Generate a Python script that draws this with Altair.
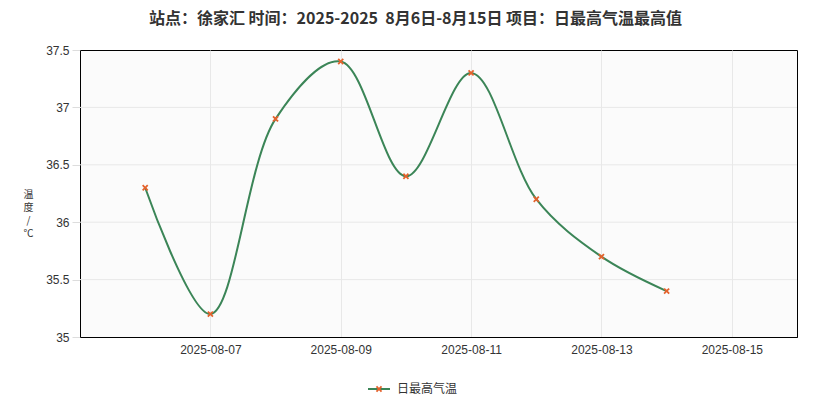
import altair as alt
import pandas as pd

dates = ["2025-08-06", "2025-08-07", "2025-08-08", "2025-08-09", "2025-08-10",
         "2025-08-11", "2025-08-12", "2025-08-13", "2025-08-14"]
temps = [36.3, 35.2, 36.9, 37.4, 36.4, 37.3, 36.2, 35.7, 35.4]
series = "日最高气温"
title_text = "站点：徐家汇 时间：2025-2025 \u00a08月6日-8月15日 项目：日最高气温最高值"
y_ticks = [35, 35.5, 36, 36.5, 37, 37.5]
y_grid = [35.5, 36, 36.5, 37]
x_tick_days = [7, 9, 11, 13, 15]

df = pd.DataFrame({"date": dates, "temp": temps, "series": [series] * len(dates)})
grid_df = pd.DataFrame({"temp": y_grid})

LINE = "#3b8557"
MARK = "#e4622c"
GRID = "#e8e8e8"
NUM_FONT = "Liberation Sans"
CJK_FONT = "Noto Sans CJK SC"
X_SHAPE = ("M-1,-0.6L-0.6,-1L0,-0.4L0.6,-1L1,-0.6L0.4,0L1,0.6L0.6,1"
           "L0,0.4L-0.6,1L-1,0.6L-0.4,0Z")

yscale = alt.Scale(domain=[35, 37.5], nice=False, zero=False)
yaxis = alt.Axis(
    title=["温", "度", "/", "℃"], titleAngle=0, titleFont=CJK_FONT,
    titleFontSize=10, titleFontWeight="normal", titleColor="#333333",
    titleLineHeight=13, titleX=-52, titleY=144, titleAlign="center", titleBaseline="middle",
    values=y_ticks, format="~g",
    labelFont=NUM_FONT, labelFontSize=12, labelColor="#333333", labelPadding=3,
    tickColor="#dddddd", tickSize=8, grid=False,
    domain=True, domainColor="#000000", domainWidth=1,
)

x = alt.X(
    "date:T",
    scale=alt.Scale(type="utc",
                    domain=[alt.DateTime(year=2025, month=8, date=5, utc=True),
                            alt.DateTime(year=2025, month=8, date=16, utc=True)]),
    axis=alt.Axis(
        title=None,
        values=[alt.DateTime(year=2025, month=8, date=d, utc=True) for d in x_tick_days],
        format="%Y-%m-%d",
        labelFont=NUM_FONT, labelFontSize=12, labelColor="#333333",
        labelPadding=7, ticks=False,
        gridColor=GRID, domain=True, domainColor="#000000", domainWidth=1,
    ),
)
y = alt.Y("temp:Q", scale=yscale, axis=yaxis)

grid = alt.Chart(grid_df).mark_rule(color=GRID, strokeWidth=1).encode(y=y)

line = alt.Chart(df).mark_line(interpolate="catmull-rom", strokeWidth=2).encode(
    x=x, y=y,
    color=alt.Color("series:N", scale=alt.Scale(range=[LINE]),
                    legend=alt.Legend(title=None, orient="none", legendX=287, legendY=327,
                                      symbolType="stroke", symbolSize=484, symbolStrokeWidth=2,
                                      labelFont=CJK_FONT, labelFontSize=12, labelColor="#333333",
                                      labelOffset=6)),
)
points = alt.Chart(df).mark_point(shape=X_SHAPE, filled=True, size=40, opacity=1).encode(
    x=x, y=y,
    fill=alt.Fill("series:N", scale=alt.Scale(range=[MARK]),
                  legend=alt.Legend(title=None, orient="none", legendX=294, legendY=334,
                                    symbolType=X_SHAPE, symbolSize=40, symbolStrokeWidth=0,
                                    symbolOpacity=1, labelExpr="''")),
)

chart = alt.layer(grid, line, points).resolve_scale(color="independent", fill="independent").properties(
    width=717, height=287,
    background="#ffffff",
    title=alt.Title(title_text, font=CJK_FONT, fontSize=16, fontWeight="bold",
                    color="#333333", anchor="middle", dx=-23, offset=17),
    autosize=alt.AutoSizeParams(type="none"),
    padding={"left": 72, "top": 42, "right": 18, "bottom": 63},
).configure_view(stroke="#000000", strokeWidth=1, fill="#fbfbfb")

chart.save("out.html", embed_options={"renderer": "svg", "actions": False})
